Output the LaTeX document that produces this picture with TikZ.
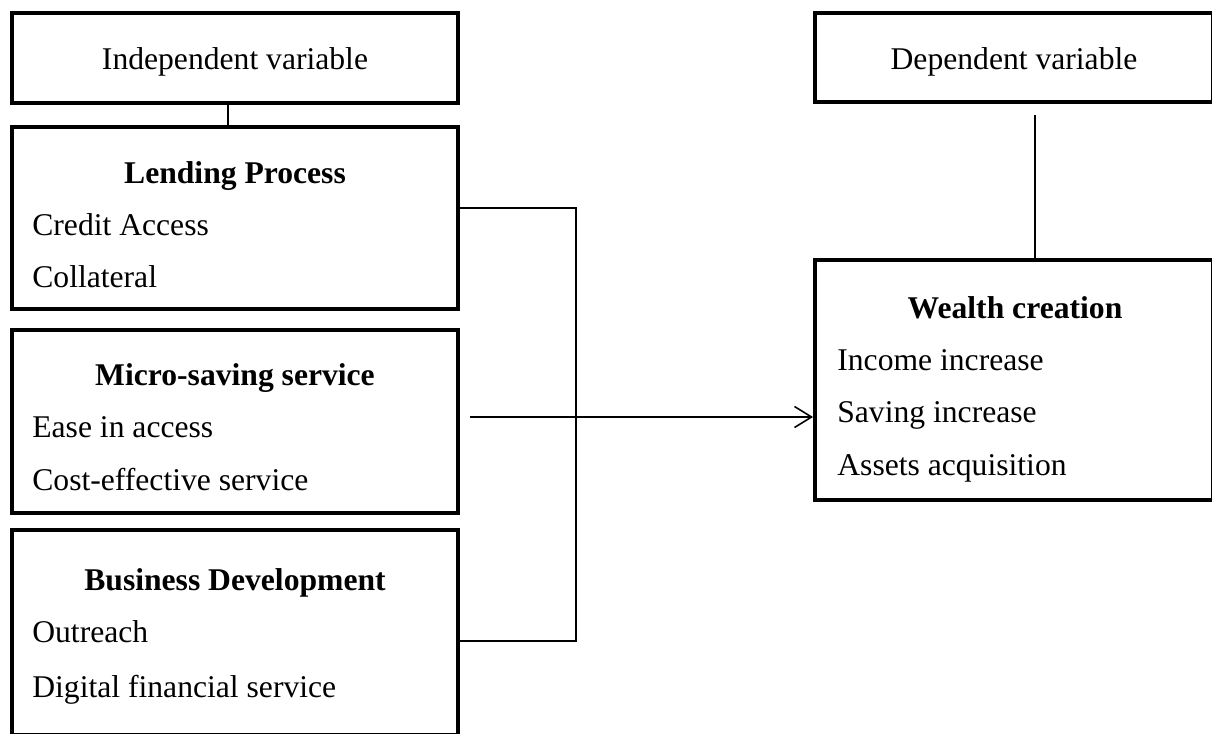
\documentclass[tikz,border=0pt]{standalone}
\usepackage{fontspec}
\setmainfont{Liberation Serif}
\usetikzlibrary{arrows.meta}
\newcommand{\taille}{\fontsize{18}{22}\selectfont}
\tikzstyle{cadre}=[rectangle,draw,line width=2.3pt,inner sep=0pt]
\tikzstyle{titre}=[inner sep=0pt,anchor=base,font=\taille\bfseries]
\tikzstyle{texte}=[inner sep=0pt,anchor=base,font=\taille]
\tikzstyle{item}=[inner sep=0pt,anchor=base west,font=\taille]
\tikzstyle{lien}=[line width=0.9pt]

\begin{document}
\begin{tikzpicture}[x=0.02cm,y=-0.02cm]
  \clip (0,0) rectangle (1212,733);
  % independent side
  \node[cadre,minimum width=8.92cm,minimum height=1.8cm] (indep) at (235,58) {};
  \node[texte] (indepT) at (235,70) {Independent variable};
  \node[cadre,minimum width=8.92cm,minimum height=3.64cm] (lend) at (235,218) {};
  \node[titre] (lendT) at (235,183) {Lending Process};
  \node[item] (lend1) at (32,235) {Credit Access};
  \node[item] (lend2) at (32,287) {Collateral};
  \node[cadre,minimum width=8.92cm,minimum height=3.66cm] (micro) at (235,421.5) {};
  \node[titre] (microT) at (235,385) {Micro-saving service};
  \node[item] (micro1) at (32,437) {Ease in access};
  \node[item] (micro2) at (32,490) {Cost-effective service};
  \node[cadre,minimum width=8.92cm,minimum height=4.1cm] (bus) at (235,632.5) {};
  \node[titre] (busT) at (235,590) {Business Development};
  \node[item] (bus1) at (32,642) {Outreach};
  \node[item] (bus2) at (32,697) {Digital financial service};
  % dependent side
  \node[cadre,minimum width=7.96cm,minimum height=1.78cm] (dep) at (1014,57.5) {};
  \node[texte] (depT) at (1014,70) {Dependent variable};
  \node[cadre,minimum width=7.96cm,minimum height=4.8cm] (wealth) at (1014,380) {};
  \node[titre] (wealthT) at (1015,318) {Wealth creation};
  \node[item] (wealth1) at (837,370) {Income increase};
  \node[item] (wealth2) at (837,422) {Saving increase};
  \node[item] (wealth3) at (837,475) {Assets acquisition};

  \coordinate (bh) at (576,208);
  \coordinate (bb) at (576,641);
  \coordinate (fl) at (470,417);
  \coordinate (dtop) at (1035,115);
  \draw[lien] ([xshift=-0.14cm]indep.south) -- ([xshift=-0.14cm]lend.north);
  \draw[lien] (lend.east |- bh) -- (bh) -- (bb) -- (bus.east |- bb);
  \draw[lien,-{Straight Barb[length=0.34cm,width=0.42cm]}] (fl) -- (wealth.west |- fl);
  \draw[lien] (dtop) -- (dtop |- wealth.north);
\end{tikzpicture}
\end{document}
